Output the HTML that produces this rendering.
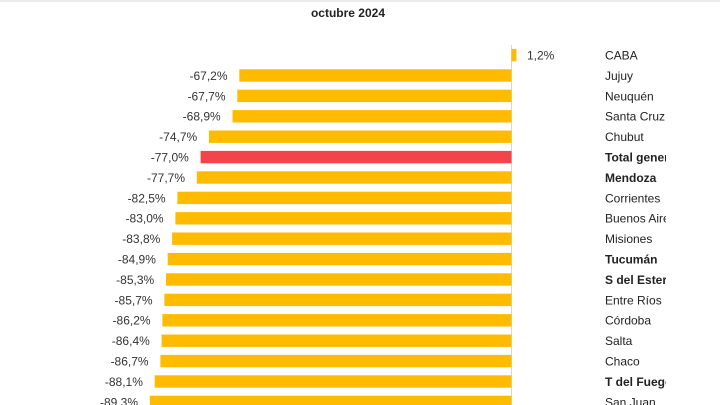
<!DOCTYPE html>
<html>
<head>
<meta charset="utf-8">
<style>
  html,body{margin:0;padding:0;background:#fff;}
  body{width:720px;height:405px;overflow:hidden;}
  svg{display:block;}
  text{font-family:"Liberation Sans",sans-serif;}
</style>
</head>
<body>
<svg width="720" height="405" viewBox="0 0 720 405" xmlns="http://www.w3.org/2000/svg">
  <defs>
    <clipPath id="rc"><rect x="600" y="0" width="66" height="405"/></clipPath>
  </defs>
  <rect x="0" y="0" width="720" height="405" fill="#fff"/>
  <rect x="0" y="0" width="720" height="2" fill="#ececec"/>
  <text x="348" y="17" text-anchor="middle" font-size="12" font-weight="bold" fill="#222">octubre 2024</text>

  <!-- axis -->
  <line x1="511.5" y1="45" x2="511.5" y2="405" stroke="#d6d6d6" stroke-width="1"/>

  <g fill="#FFBB00">
    <rect x="511.5" y="48.9" width="4.9" height="12.4"/>
    <rect x="239.3" y="69.3" width="272.2" height="12.4"/>
    <rect x="237.3" y="89.7" width="274.2" height="12.4"/>
    <rect x="232.5" y="110.1" width="279.0" height="12.4"/>
    <rect x="209.0" y="130.5" width="302.5" height="12.4"/>
    <rect x="200.6" y="150.9" width="310.9" height="12.4" fill="#F2444A"/>
    <rect x="196.8" y="171.3" width="314.7" height="12.4"/>
    <rect x="177.4" y="191.7" width="334.1" height="12.4"/>
    <rect x="175.4" y="212.1" width="336.1" height="12.4"/>
    <rect x="172.1" y="232.5" width="339.4" height="12.4"/>
    <rect x="167.7" y="252.9" width="343.8" height="12.4"/>
    <rect x="166.0" y="273.3" width="345.5" height="12.4"/>
    <rect x="164.4" y="293.7" width="347.1" height="12.4"/>
    <rect x="162.4" y="314.1" width="349.1" height="12.4"/>
    <rect x="161.6" y="334.5" width="349.9" height="12.4"/>
    <rect x="160.4" y="354.9" width="351.1" height="12.4"/>
    <rect x="154.7" y="375.3" width="356.8" height="12.4"/>
    <rect x="149.8" y="395.7" width="361.7" height="12.4"/>
  </g>

  <g font-size="12" fill="#333">
    <text x="527" y="59.5">1,2%</text>
    <g text-anchor="end">
      <text x="227.5" y="79.9">-67,2%</text>
      <text x="225.5" y="100.3">-67,7%</text>
      <text x="220.7" y="120.7">-68,9%</text>
      <text x="197.2" y="141.1">-74,7%</text>
      <text x="188.8" y="161.5">-77,0%</text>
      <text x="185.0" y="181.9">-77,7%</text>
      <text x="165.6" y="202.3">-82,5%</text>
      <text x="163.6" y="222.7">-83,0%</text>
      <text x="160.3" y="243.1">-83,8%</text>
      <text x="155.9" y="263.5">-84,9%</text>
      <text x="154.2" y="283.9">-85,3%</text>
      <text x="152.6" y="304.3">-85,7%</text>
      <text x="150.6" y="324.7">-86,2%</text>
      <text x="149.8" y="345.1">-86,4%</text>
      <text x="148.6" y="365.5">-86,7%</text>
      <text x="142.9" y="385.9">-88,1%</text>
      <text x="138.0" y="406.3">-89,3%</text>
    </g>
  </g>

  <g font-size="12" fill="#222" clip-path="url(#rc)">
    <text x="605" y="59.5">CABA</text>
    <text x="605" y="79.9">Jujuy</text>
    <text x="605" y="100.3">Neuquén</text>
    <text x="605" y="120.7">Santa Cruz</text>
    <text x="605" y="141.1">Chubut</text>
    <text x="605" y="161.5" font-weight="bold">Total general</text>
    <text x="605" y="181.9" font-weight="bold">Mendoza</text>
    <text x="605" y="202.3">Corrientes</text>
    <text x="605" y="222.7">Buenos Aires</text>
    <text x="605" y="243.1">Misiones</text>
    <text x="605" y="263.5" font-weight="bold">Tucumán</text>
    <text x="605" y="283.9" font-weight="bold">S del Estero</text>
    <text x="605" y="304.3">Entre Ríos</text>
    <text x="605" y="324.7">Córdoba</text>
    <text x="605" y="345.1">Salta</text>
    <text x="605" y="365.5">Chaco</text>
    <text x="605" y="385.9" font-weight="bold">T del Fuego</text>
    <text x="605" y="406.3">San Juan</text>
  </g>
</svg>
</body>
</html>
